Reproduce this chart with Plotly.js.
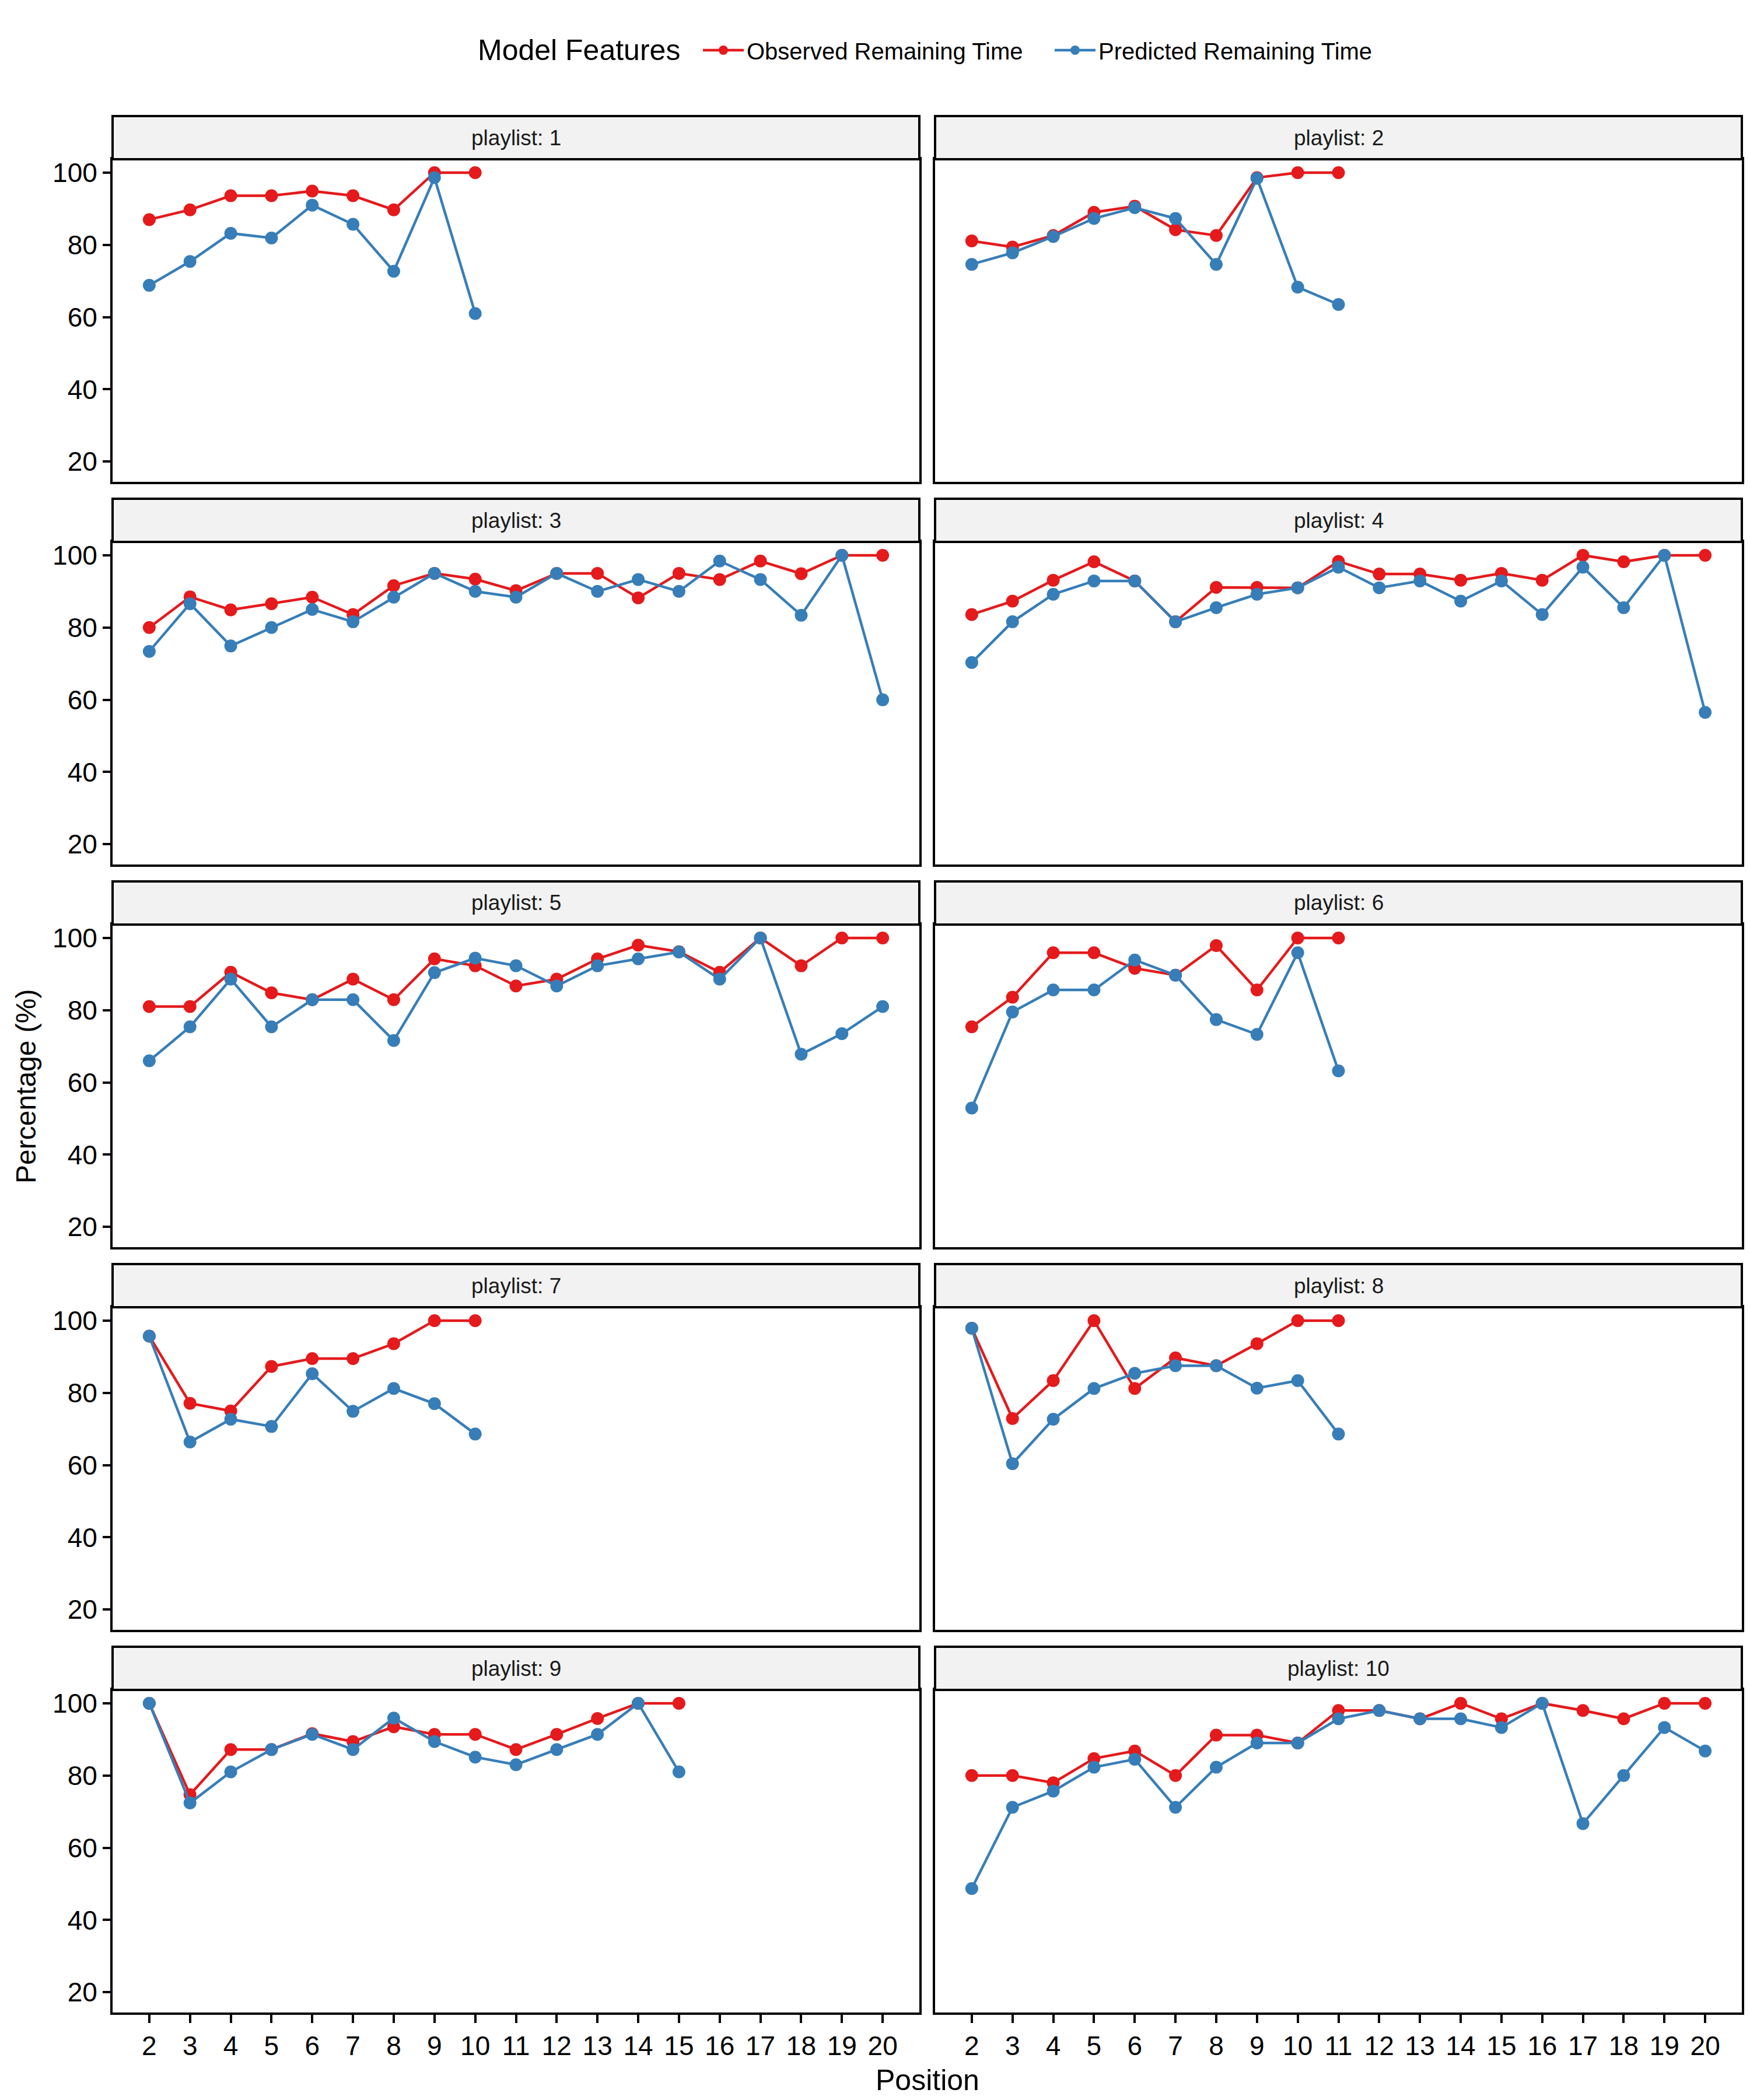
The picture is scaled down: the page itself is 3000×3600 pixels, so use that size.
<!DOCTYPE html>
<html>
<head>
<meta charset="utf-8">
<script src="https://cdn.plot.ly/plotly-3.0.1.min.js"></script>
<style>
  html, body { margin: 0; padding: 0; background: #ffffff; }
  #chart { width: 3000px; height: 3600px; }
</style>
</head>
<body>
<div id="chart"></div>
<script>
// ---------------- DATA ----------------
const positions = [2, 3, 4, 5, 6, 7, 8, 9, 10, 11, 12, 13, 14, 15, 16, 17, 18, 19, 20];
const yTicks = [20, 40, 60, 80, 100];
const seriesNames = ['Observed Remaining Time', 'Predicted Remaining Time'];
const legendTitle = 'Model Features';
const playlistLabels = ['playlist: 1', 'playlist: 2', 'playlist: 3', 'playlist: 4', 'playlist: 5',
                        'playlist: 6', 'playlist: 7', 'playlist: 8', 'playlist: 9', 'playlist: 10'];

const obs1  = [87.0, 89.7, 93.6, 93.6, 94.9, 93.6, 89.7, 100, 100];
const pred1 = [68.8, 75.4, 83.2, 81.9, 91.0, 85.7, 72.7, 98.6, 61.0];

const obs2  = [81.1, 79.4, 82.6, 89.0, 90.7, 84.2, 82.6, 98.6, 100, 100];
const pred2 = [74.6, 77.8, 82.3, 87.3, 90.3, 87.3, 74.6, 98.4, 68.3, 63.5];

const obs3  = [80.0, 88.5, 84.9, 86.6, 88.4, 83.6, 91.6, 95.0, 93.4, 90.2, 95.0, 95.0, 88.2, 95.0, 93.3, 98.4, 94.9, 100, 100];
const pred3 = [73.4, 86.6, 74.9, 80.0, 85.0, 81.6, 88.4, 95.0, 90.0, 88.4, 95.0, 90.0, 93.3, 90.0, 98.4, 93.3, 83.4, 100, 60.0];

const obs4  = [83.6, 87.3, 93.1, 98.2, 92.9, 81.6, 91.1, 91.1, 91.0, 98.3, 94.8, 94.8, 93.1, 95.0, 93.1, 100, 98.2, 100, 100];
const pred4 = [70.3, 81.6, 89.2, 92.9, 92.9, 81.6, 85.5, 89.2, 91.0, 96.7, 91.0, 92.9, 87.3, 92.9, 83.6, 96.7, 85.5, 100, 56.5];

const obs5  = [81.0, 81.0, 90.5, 84.8, 82.9, 88.6, 82.9, 94.2, 92.3, 86.7, 88.6, 94.2, 98.0, 96.2, 90.5, 100, 92.3, 100, 100];
const pred5 = [66.0, 75.4, 88.6, 75.4, 82.9, 82.9, 71.6, 90.4, 94.4, 92.3, 86.7, 92.3, 94.2, 96.1, 88.6, 100, 67.8, 73.5, 81.0];

const obs6  = [75.4, 83.6, 95.9, 95.9, 91.6, 89.7, 97.9, 85.6, 100, 100];
const pred6 = [52.9, 79.5, 85.6, 85.6, 93.9, 89.7, 77.4, 73.3, 95.9, 63.2];

const obs7  = [95.7, 77.1, 75.0, 87.3, 89.5, 89.5, 93.6, 100, 100];
const pred7 = [95.7, 66.4, 72.7, 70.7, 85.3, 74.9, 81.2, 77.0, 68.6];

const obs8  = [97.9, 72.9, 83.4, 100, 81.2, 89.7, 87.5, 93.6, 100, 100];
const pred8 = [97.9, 60.4, 72.7, 81.2, 85.4, 87.5, 87.5, 81.3, 83.4, 68.6];

const obs9  = [100, 74.7, 87.2, 87.2, 91.6, 89.4, 93.5, 91.4, 91.4, 87.2, 91.4, 95.8, 100, 100];
const pred9 = [100, 72.4, 81.0, 87.2, 91.4, 87.2, 95.9, 89.4, 85.1, 83.0, 87.2, 91.4, 100, 81.0];

const obs10  = [80.0, 80.0, 78.0, 84.7, 86.8, 80.0, 91.2, 91.2, 89.0, 98.0, 98.0, 95.7, 100, 95.7, 100, 98.0, 95.7, 100, 100];
const pred10 = [48.7, 71.2, 75.7, 82.3, 84.5, 71.2, 82.3, 89.0, 89.0, 95.7, 98.0, 95.7, 95.7, 93.3, 100, 66.7, 80.0, 93.3, 86.8];

const observedSeries  = [obs1, obs2, obs3, obs4, obs5, obs6, obs7, obs8, obs9, obs10];
const predictedSeries = [pred1, pred2, pred3, pred4, pred5, pred6, pred7, pred8, pred9, pred10];

// ---------------- LAYOUT GEOMETRY (pixels) ----------------
const W = 3000, H = 3600;
const colLeft  = [193, 1603];
const colWidth = 1383;
const rowTop   = [273, 929, 1585, 2241, 2897];
const rowHeight = 553;
const stripH = 74;

const RED = '#E41A1C', BLUE = '#377EB8';
const FONT = 'Liberation Sans, Arial, Helvetica, sans-serif';

const px2x = p => p / W;
const px2y = p => 1 - p / H;

const traces = [];
const layout = {
  width: W, height: H,
  margin: {l: 0, r: 0, t: 0, b: 0},
  paper_bgcolor: '#ffffff',
  plot_bgcolor: '#ffffff',
  font: {family: FONT, color: '#000000'},
  showlegend: true,
  legend: {
    orientation: 'h',
    x: px2x(1200), xanchor: 'left',
    y: px2y(86), yanchor: 'middle',
    font: {family: FONT, size: 40, color: '#000000'},
    itemwidth: 70,
    entrywidth: 518,
    entrywidthmode: 'pixels',
    valign: 'middle',
    bgcolor: 'rgba(0,0,0,0)',
    traceorder: 'normal'
  },
  shapes: [],
  annotations: []
};

for (let i = 0; i < 10; i++) {
  const row = Math.floor(i / 2), col = i % 2;
  const k = i + 1;
  const xName = 'xaxis' + (k === 1 ? '' : k);
  const yName = 'yaxis' + (k === 1 ? '' : k);
  const xRef = 'x' + (k === 1 ? '' : k);
  const yRef = 'y' + (k === 1 ? '' : k);

  const x0 = colLeft[col], x1 = colLeft[col] + colWidth;
  const yTop = rowTop[row], yBot = rowTop[row] + rowHeight;

  layout[xName] = {
    domain: [px2x(x0), px2x(x1)],
    anchor: yRef,
    range: [1.1, 20.9],
    tickmode: 'array',
    tickvals: positions,
    ticktext: positions.map(String),
    showticklabels: row === 4,
    ticks: row === 4 ? 'outside' : '',
    ticklen: 14, tickwidth: 4, tickcolor: '#000000',
    tickfont: {family: FONT, size: 46, color: '#000000'},
    showline: true, mirror: true, linecolor: '#000000', linewidth: 4,
    showgrid: false, zeroline: false, fixedrange: true
  };
  layout[yName] = {
    domain: [px2y(yBot), px2y(yTop)],
    anchor: xRef,
    range: [14.4, 103.7],
    tickmode: 'array',
    tickvals: yTicks,
    ticktext: yTicks.map(String),
    showticklabels: col === 0,
    ticks: col === 0 ? 'outside' : '',
    ticklen: 13, tickwidth: 4, tickcolor: '#000000',
    tickfont: {family: FONT, size: 46, color: '#000000'},
    showline: true, mirror: true, linecolor: '#000000', linewidth: 4,
    showgrid: false, zeroline: false, fixedrange: true
  };

  // strip
  layout.shapes.push({
    type: 'rect', xref: 'paper', yref: 'paper',
    x0: px2x(x0), x1: px2x(x1),
    y0: px2y(yTop), y1: px2y(yTop - stripH),
    fillcolor: '#F2F2F2',
    line: {color: '#000000', width: 4}
  });
  layout.annotations.push({
    xref: 'paper', yref: 'paper',
    x: px2x((x0 + x1) / 2), y: px2y(yTop - stripH / 2),
    xanchor: 'center', yanchor: 'middle',
    text: playlistLabels[i], showarrow: false,
    font: {family: FONT, size: 37, color: '#1A1A1A'}
  });

  const obs = observedSeries[i];
  const pred = predictedSeries[i];
  traces.push({
    type: 'scatter', mode: 'lines+markers',
    x: positions.slice(0, obs.length), y: obs,
    xaxis: xRef, yaxis: yRef,
    name: seriesNames[0], legendgroup: 'obs', showlegend: i === 0,
    line: {color: RED, width: 4.5},
    marker: {color: RED, size: 22},
    cliponaxis: false
  });
  traces.push({
    type: 'scatter', mode: 'lines+markers',
    x: positions.slice(0, pred.length), y: pred,
    xaxis: xRef, yaxis: yRef,
    name: seriesNames[1], legendgroup: 'pred', showlegend: i === 0,
    line: {color: BLUE, width: 4.5},
    marker: {color: BLUE, size: 22},
    cliponaxis: false
  });
}

// legend title
layout.annotations.push({
  xref: 'paper', yref: 'paper',
  x: px2x(1168), y: px2y(86),
  xanchor: 'right', yanchor: 'middle',
  text: legendTitle, showarrow: false,
  font: {family: FONT, size: 50, color: '#000000'}
});

// axis titles
layout.annotations.push({
  xref: 'paper', yref: 'paper',
  x: px2x(1590), y: px2y(3566),
  xanchor: 'center', yanchor: 'middle',
  text: 'Position', showarrow: false,
  font: {family: FONT, size: 50, color: '#000000'}
});
layout.annotations.push({
  xref: 'paper', yref: 'paper',
  x: px2x(44), y: px2y(1862),
  xanchor: 'center', yanchor: 'middle',
  text: 'Percentage (%)', showarrow: false, textangle: -90,
  font: {family: FONT, size: 48, color: '#000000'}
});

Plotly.newPlot('chart', traces, layout, {staticPlot: true, displayModeBar: false});
</script>
</body>
</html>
